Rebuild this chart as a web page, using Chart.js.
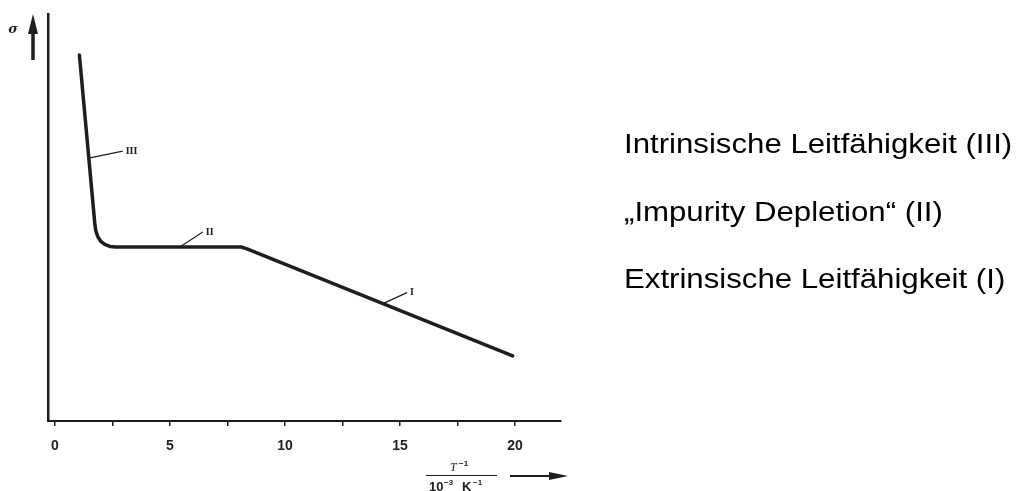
<!DOCTYPE html>
<html><head><meta charset="utf-8">
<script src="https://cdn.jsdelivr.net/npm/chart.js@4.4.0/dist/chart.umd.min.js"></script>
<style>
html,body{margin:0;padding:0;background:#fff;}
#wrap{position:relative;width:1022px;height:491px;overflow:hidden;}
canvas{position:absolute;left:0;top:0;}
.leg{position:absolute;left:624px;font-family:"Liberation Sans",Arial,sans-serif;font-size:27px;color:#000;white-space:nowrap;line-height:1;transform:scaleX(1.155);transform-origin:0 0;}
</style></head>
<body><div id="wrap"><canvas id="c" width="1022" height="491"></canvas>
<div class="leg" style="top:131px">Intrinsische Leitfähigkeit (III)</div>
<div class="leg" style="top:199px">„Impurity Depletion“ (II)</div>
<div class="leg" style="top:266px">Extrinsische Leitfähigkeit (I)</div>
</div>
<script>
// Curve (T^-1 in 10^-3 K^-1, sigma in arbitrary units)
const invT = [1.065, 1.74, 1.78, 1.87, 2.00, 2.17, 2.39, 2.65, 8.10, 8.35, 19.9];
const sigma = [89.9, 48.2, 46.7, 45.2, 44.1, 43.4, 42.9, 42.75, 42.75, 42.3, 16.0];
const xTicks = [0, 2.5, 5, 7.5, 10, 12.5, 15, 17.5, 20];
const xTickLabels = ["0", "", "5", "", "10", "", "15", "", "20"];
const regionLabels = ["III", "II", "I"];
const regionAnchorX = [1.47, 5.43, 14.26];
const regionAnchorY = [64.6, 42.75, 28.85];

const ink = '#1e1e1e';
const pts = invT.map((v, i) => ({x: v, y: sigma[i]}));

const extras = {
  id: 'extras',
  afterDraw(chart) {
    const ctx = chart.ctx, xs = chart.scales.x, ys = chart.scales.y;
    ctx.save();
    ctx.strokeStyle = ink; ctx.fillStyle = ink;
    // sigma arrow
    ctx.lineWidth = 3.5;
    ctx.beginPath(); ctx.moveTo(33, 60); ctx.lineTo(33, 28); ctx.stroke();
    ctx.beginPath(); ctx.moveTo(33, 14); ctx.lineTo(28, 34); ctx.lineTo(38, 34); ctx.closePath(); ctx.fill();
    ctx.font = 'italic bold 13px "DejaVu Serif", serif';
    ctx.textAlign = 'center'; ctx.textBaseline = 'middle';
    ctx.fillText('σ', 13, 30);
    // region labels with leaders
    const offs = [[34, -7], [23, -15], [24, -11]];
    ctx.lineWidth = 1.2;
    ctx.font = 'bold 10px "Liberation Serif", serif';
    ctx.textAlign = 'left';
    regionLabels.forEach((t, i) => {
      const px = xs.getPixelForValue(regionAnchorX[i]);
      const py = ys.getPixelForValue(regionAnchorY[i]);
      ctx.beginPath(); ctx.moveTo(px, py); ctx.lineTo(px + offs[i][0], py + offs[i][1]); ctx.stroke();
      ctx.fillText(t, px + offs[i][0] + 3, py + offs[i][1]);
    });
    // x-axis title fraction
    ctx.textBaseline = 'alphabetic';
    ctx.textAlign = 'left';
    ctx.font = 'italic 12px "Liberation Serif", serif';
    ctx.fillText('T', 450, 471);
    ctx.font = 'bold 8px "Liberation Sans", sans-serif';
    ctx.fillText('−1', 459, 466);
    ctx.lineWidth = 1.2;
    ctx.beginPath(); ctx.moveTo(426, 475.5); ctx.lineTo(497, 475.5); ctx.stroke();
    ctx.font = 'bold 13px "Liberation Sans", sans-serif';
    ctx.fillText('10', 429, 491);
    ctx.font = 'bold 8px "Liberation Sans", sans-serif';
    ctx.fillText('−3', 444, 485);
    ctx.font = 'bold 13px "Liberation Sans", sans-serif';
    ctx.fillText('K', 462, 491);
    ctx.font = 'bold 8px "Liberation Sans", sans-serif';
    ctx.fillText('−1', 473, 485);
    // arrow
    ctx.lineWidth = 2;
    ctx.beginPath(); ctx.moveTo(510, 476); ctx.lineTo(552, 476); ctx.stroke();
    ctx.beginPath(); ctx.moveTo(568, 476); ctx.lineTo(549, 472); ctx.lineTo(549, 480); ctx.closePath(); ctx.fill();
    ctx.restore();
  }
};

new Chart(document.getElementById('c'), {
  type: 'scatter',
  data: { datasets: [{
    data: pts, showLine: true, borderColor: ink, borderWidth: 3.5,
    pointRadius: 0, tension: 0, borderJoinStyle: 'round', borderCapStyle: 'round', fill: false
  }]},
  options: {
    responsive: false, animation: false, devicePixelRatio: 1,
    layout: { padding: { left: 48, right: 461, top: 14, bottom: 0 } },
    plugins: { legend: { display: false }, tooltip: { enabled: false } },
    scales: {
      x: {
        type: 'linear', min: -0.3, max: 22,
        afterBuildTicks: s => { s.ticks = xTicks.map(v => ({value: v})); },
        afterFit: s => { s.height = 70; },
        ticks: { autoSkip: false, maxRotation: 0, padding: 12, color: ink,
          font: { family: '"Liberation Sans", Arial, sans-serif', size: 14, weight: 'bold' },
          callback: (v, i) => xTickLabels[i] },
        grid: { drawOnChartArea: false, drawTicks: true, tickLength: 5, color: ink, lineWidth: 1.5 },
        border: { display: true, color: ink, width: 2 }
      },
      y: {
        type: 'linear', min: 0, max: 100,
        afterFit: s => { s.width = 0; },
        ticks: { display: false },
        grid: { display: false, drawOnChartArea: false },
        border: { display: true, color: ink, width: 2.5 }
      }
    }
  },
  plugins: [extras]
});
</script></body></html>
